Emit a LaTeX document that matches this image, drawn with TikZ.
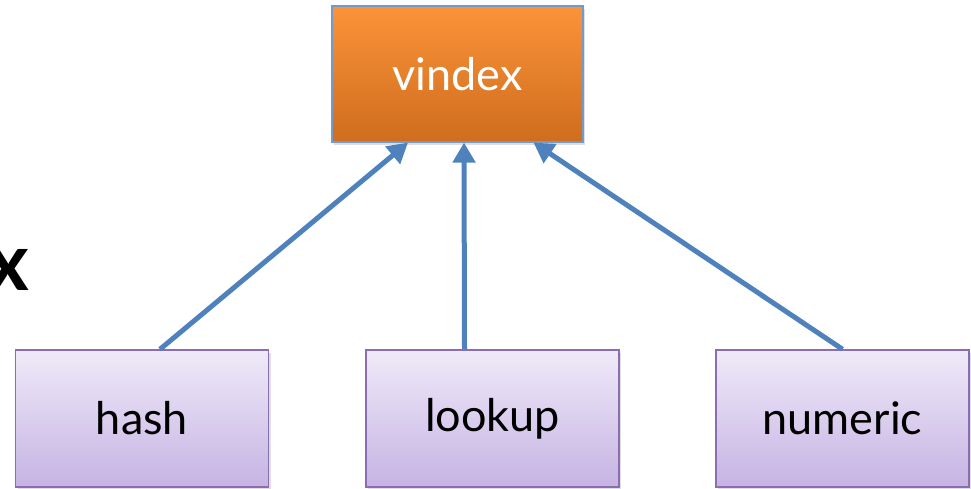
\documentclass[tikz,border=0pt]{standalone}
\usepackage{fontspec}
\setmainfont{Lato}
\usetikzlibrary{arrows.meta,calc,shadows}
\definecolor{arrowblue}{HTML}{4F81BD}
\definecolor{orangetop}{HTML}{FB9339}
\definecolor{orangebot}{HTML}{CF6D1E}
\definecolor{purptop}{HTML}{EFEAF9}
\definecolor{purpbot}{HTML}{C6B3E3}
\definecolor{purpedge}{HTML}{8B6DB0}
\tikzset{
  boxbase/.style={rectangle, inner sep=0pt, font=\fontsize{45}{50}\selectfont,
    drop shadow={opacity=0.25, shadow xshift=2pt, shadow yshift=-3pt}},
  topbox/.style={boxbase, minimum width=251pt, minimum height=136pt,
    top color=orangetop, bottom color=orangebot, draw=arrowblue!80, line width=1.2pt, text=white},
  leafbox/.style={boxbase, minimum width=253pt, minimum height=137pt,
    top color=purptop, bottom color=purpbot, draw=purpedge, line width=1.5pt, text=black},
  conn/.style={draw=arrowblue, line width=5pt, -{Triangle[length=20pt,width=22pt]}}
}
\begin{document}
\begin{tikzpicture}[x=1pt,y=-1pt]
\useasboundingbox (0,0) rectangle (971,488);
\begin{scope}
\clip (0,0) rectangle (971,488);
\node[font=\fontsize{80}{90}\selectfont\bfseries, anchor=base east, inner sep=0pt] (xlab) at (29,290) {x};
\end{scope}
\node[topbox] (vindex) at (457.5,74) {vindex};
\node[leafbox] (hash) at (142,418.5) {hash};
\node[leafbox] (lookup) at (492.5,418.5) {lookup};
\node[leafbox] (numeric) at (842.5,418.5) {numeric};
\draw[conn] ($(hash.north)+(18,0)$) -- ($(vindex.south)+(-49.5,0)$);
\draw[conn] ($(lookup.north)+(-28,0)$) -- ($(vindex.south)+(6.5,0)$);
\draw[conn] (numeric.north) -- ($(vindex.south)+(76,0)$);
\end{tikzpicture}
\end{document}
